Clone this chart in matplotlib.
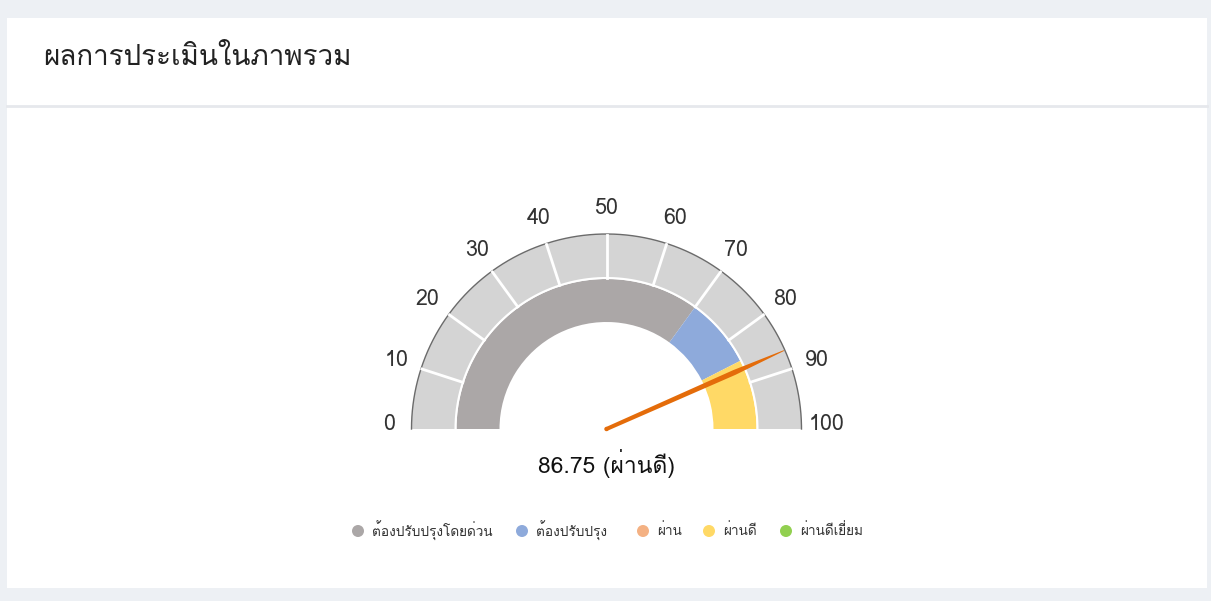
import numpy as np
import matplotlib
matplotlib.use("Agg")
import matplotlib.pyplot as plt
from matplotlib import font_manager, ft2font
from matplotlib.patches import Wedge, Polygon, Rectangle, Circle

# data
title = "ผลการประเมินในภาพรวม"
scale_ticks = [0, 10, 20, 30, 40, 50, 60, 70, 80, 90, 100]
band_labels = ["ต้องปรับปรุงโดยด่วน", "ต้องปรับปรุง", "ผ่าน", "ผ่านดี", "ผ่านดีเยี่ยม"]
band_start = [0, 70, 85, 85, 100]
band_end = [70, 85, 85, 100, 100]
band_colors = ["#aba7a7", "#8eaadb", "#f4b183", "#ffd966", "#92d050"]
score = 86.75
score_text = "ผ่านดี"


# find a font that has Thai glyphs
def thai_family():
    for f in font_manager.fontManager.ttflist:
        try:
            if 0x0E01 in ft2font.FT2Font(f.fname).get_charmap():
                return f.name
        except Exception:
            pass
    return None


fam = thai_family()
plt.rcParams['font.family'] = [fam, 'DejaVu Sans'] if fam else ['DejaVu Sans']

fig = plt.figure(figsize=(12.11, 6.01), dpi=100)
fig.patch.set_facecolor("#edf0f4")
ax = fig.add_axes([0, 0, 1, 1])
ax.set_xlim(0, 1211)
ax.set_ylim(601, 0)
ax.axis("off")

# card + header
ax.add_patch(Rectangle((7, 18), 1200, 570, facecolor="white", edgecolor="none"))
ax.plot([7, 1207], [106, 106], color="#e6e8ec", lw=2)
ax.text(43, 58, title, fontsize=20, color="#222222", va="center", ha="left")

# gauge geometry (pixels)
cx, cy = 606.5, 429
r_out, r_mid, r_in = 195, 151, 107


def ang(v):
    # value 0 -> 180 deg (left), 100 -> 0 deg (right); y axis is flipped
    return 180 - v / 100 * 180


def pt(v, r):
    a = np.deg2rad(ang(v))
    return cx + r * np.cos(a), cy - r * np.sin(a)


# outer light band, y flipped -> use negative angles
ax.add_patch(Wedge((cx, cy), r_out, -180, 0, width=r_out - r_mid, facecolor="#d4d4d4",
                   edgecolor="none"))
th = np.linspace(np.pi, 0, 200)
ax.plot(cx + r_out * np.cos(th), cy - r_out * np.sin(th), color="#6b6b6b", lw=1)
for t in scale_ticks[1:-1]:
    x0, y0 = pt(t, r_mid)
    x1, y1 = pt(t, r_out - 1)
    ax.plot([x0, x1], [y0, y1], color="white", lw=2)
    lx, ly = pt(t, 221)
    ax.text(lx, ly, str(t), fontsize=15.5, color="#333333", ha="center", va="center")
ax.text(cx - 217, cy - 4, "0", fontsize=15.5, color="#333333", ha="center", va="center")
ax.text(cx + 220, cy - 4, "100", fontsize=15.5, color="#333333", ha="center", va="center")

# inner colored bands
for s, e, c in zip(band_start, band_end, band_colors):
    if e > s:
        ax.add_patch(Wedge((cx, cy), r_mid - 1, -ang(s), -ang(e), width=r_mid - 1 - r_in,
                           facecolor=c, edgecolor="none"))
ax.plot(cx + r_mid * np.cos(th), cy - r_mid * np.sin(th), color="white", lw=1.5)

# needle
a = np.deg2rad(ang(score))
ux, uy = np.cos(a), -np.sin(a)
nx, ny = -uy, ux
prof = [(0, 2.0), (140, 2.6), (194, 0.4)]
left = [(cx + r * ux + w * nx, cy + r * uy + w * ny) for r, w in prof]
right = [(cx + r * ux - w * nx, cy + r * uy - w * ny) for r, w in prof[::-1]]
ax.add_patch(Polygon(left + right, closed=True, facecolor="#e46c0a", edgecolor="none", zorder=5))
ax.add_patch(Circle((cx, cy), 2.2, facecolor="#e46c0a", edgecolor="none", zorder=5))

ax.text(cx, 463, f"{score:.2f} ({score_text})", fontsize=16.5,
        color="#111111", ha="center", va="center")

# legend
leg_x = [358, 522, 643, 709, 786]
for x, lab, c in zip(leg_x, band_labels, band_colors):
    ax.add_patch(Circle((x, 531), 6, facecolor=c, edgecolor="none"))
    ax.text(x + 14, 531, lab, fontsize=9.8, color="#333333", ha="left", va="center")

plt.savefig("out.png", dpi=100, facecolor=fig.get_facecolor())
